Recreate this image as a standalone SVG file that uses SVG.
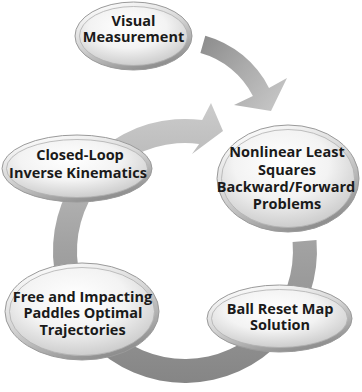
<svg xmlns="http://www.w3.org/2000/svg" width="362" height="392" viewBox="0 0 362 392">
<defs>
<linearGradient id="rim" x1="0.25" y1="0" x2="0.75" y2="1">
<stop offset="0" stop-color="#fdfdfd"/>
<stop offset="0.45" stop-color="#d6d6d6"/>
<stop offset="1" stop-color="#858585"/>
</linearGradient>
<radialGradient id="fill" cx="0.45" cy="0.35" r="0.65">
<stop offset="0" stop-color="#ffffff"/>
<stop offset="0.55" stop-color="#f3f3f3"/>
<stop offset="1" stop-color="#cdcdcd"/>
</radialGradient>
<linearGradient id="ringGrad" gradientUnits="userSpaceOnUse" x1="0" y1="105" x2="0" y2="385">
<stop offset="0" stop-color="#cbcbcb"/>
<stop offset="0.5" stop-color="#a2a2a2"/>
<stop offset="1" stop-color="#858585"/>
</linearGradient>
<linearGradient id="topGrad" gradientUnits="userSpaceOnUse" x1="200" y1="40" x2="280" y2="105">
<stop offset="0" stop-color="#8c8c8c"/>
<stop offset="0.5" stop-color="#ababab"/>
<stop offset="1" stop-color="#c6c6c6"/>
</linearGradient>
</defs>
<style>
.rim{fill:url(#rim);stroke:#9a9a9a;stroke-width:1}
.face{fill:url(#fill);stroke:#b0b0b0;stroke-width:0.8}
text{font-family:"Open Sans","Liberation Sans",sans-serif;font-weight:700;font-size:14.5px;fill:#1a1a1a;text-anchor:middle}
</style>
<g id="connectors">
<path id="ring" d="M316.5,240 A132,132 0 1 1 202.2,120.1 L211,103 L223,131 L192,154 L199.1,143.9 A108,108 0 1 0 292.6,242 Z" fill="url(#ringGrad)"/>
<path id="topArrow" d="M205.3,35.7 A102,102 0 0 1 269,87.9 L287,78 L271,111 L234,105 L252.9,96 A84,84 0 0 0 200.4,53.1 Z" fill="url(#topGrad)"/>
</g>
<g id="visual">
<ellipse class="rim" cx="133.5" cy="36" rx="58.5" ry="34"/>
<ellipse class="face" cx="133.5" cy="36" rx="54" ry="29.5"/>
<text x="133.5" y="26">Visual</text>
<text x="133.5" y="42">Measurement</text>
</g>
<g id="closedloop">
<ellipse class="rim" cx="77" cy="168.5" rx="75" ry="33.5"/>
<ellipse class="face" cx="77" cy="168.5" rx="70.5" ry="29"/>
<text x="80" y="160">Closed-Loop</text>
<text x="78" y="177.5">Inverse Kinematics</text>
</g>
<g id="nonlinear">
<ellipse class="rim" cx="288" cy="178.5" rx="71" ry="53.5"/>
<ellipse class="face" cx="288" cy="178.5" rx="66.5" ry="49"/>
<text x="287" y="157.3">Nonlinear Least</text>
<text x="287" y="174.5">Squares</text>
<text x="286" y="192.3">Backward/Forward</text>
<text x="287" y="209.3">Problems</text>
</g>
<g id="freeimpact">
<ellipse class="rim" cx="82" cy="311.5" rx="77" ry="48.5"/>
<ellipse class="face" cx="82" cy="311.5" rx="72.5" ry="44"/>
<text x="82.5" y="301.7">Free and Impacting</text>
<text x="83" y="318">Paddles Optimal</text>
<text x="82.5" y="335">Trajectories</text>
</g>
<g id="ballreset">
<ellipse class="rim" cx="279.5" cy="318.5" rx="72.5" ry="33.5"/>
<ellipse class="face" cx="279.5" cy="318.5" rx="68" ry="29"/>
<text x="280" y="314">Ball Reset Map</text>
<text x="280" y="330">Solution</text>
</g>
</svg>
